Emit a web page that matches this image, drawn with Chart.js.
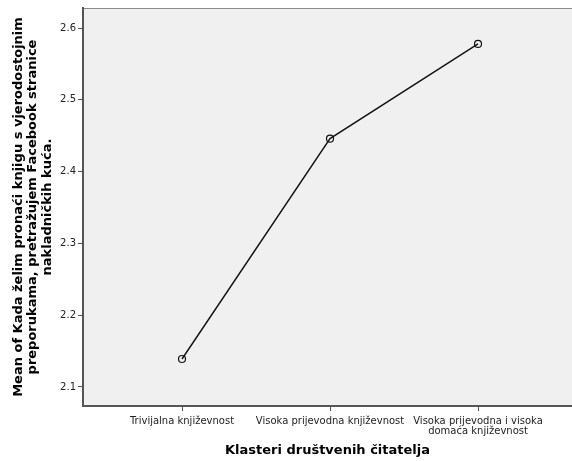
<!DOCTYPE html>
<html>
<head>
<meta charset="utf-8">
<script src="https://cdn.jsdelivr.net/npm/chart.js@4/dist/chart.umd.min.js"></script>
<style>
html,body{margin:0;padding:0;background:#fff;}
#wrap{width:572px;height:461px;position:relative;}
</style>
</head>
<body>
<div id="wrap"><canvas id="c" width="572" height="461"></canvas></div>
<script>
const categories = [
  "Trivijalna književnost",
  "Visoka prijevodna književnost",
  ["Visoka prijevodna i visoka", "domaća književnost"]
];
const meanValues = [2.139, 2.446, 2.578];
const yTicks = [2.1, 2.2, 2.3, 2.4, 2.5, 2.6];
const yTitle = [
  "Mean of Kada želim pronaći knjigu s vjerodostojnim",
  "preporukama, pretražujem Facebook stranice",
  "nakladničkih kuća."
];
const xTitle = "Klasteri društvenih čitatelja";

const bgPlugin = {
  id: 'bg',
  beforeDraw(chart) {
    const {ctx, chartArea: a} = chart;
    ctx.save();
    ctx.fillStyle = '#f0f0f0';
    ctx.fillRect(a.left, a.top, a.right - a.left, a.bottom - a.top);
    ctx.strokeStyle = '#8a8a8a';
    ctx.lineWidth = 1;
    ctx.beginPath();
    ctx.moveTo(a.left, a.top + 0.5);
    ctx.lineTo(a.right, a.top + 0.5);
    ctx.stroke();
    ctx.restore();
  }
};

new Chart(document.getElementById('c'), {
  type: 'line',
  data: {
    datasets: [{
      data: meanValues.map((v, i) => ({x: i, y: v})),
      borderColor: '#111',
      borderWidth: 1.4,
      pointRadius: 3.5,
      pointBorderWidth: 1.2,
      pointBorderColor: '#111',
      pointBackgroundColor: 'rgba(0,0,0,0)',
      tension: 0
    }]
  },
  options: {
    responsive: false,
    animation: false,
    devicePixelRatio: 1,
    layout: {autoPadding: false, padding: {left: 0, right: 0, top: 7, bottom: 0}},
    plugins: {legend: {display: false}, tooltip: {enabled: false}},
    scales: {
      x: {
        type: 'linear',
        min: -0.669,
        max: 2.635,
        afterBuildTicks(s) { s.ticks = categories.map((c, i) => ({value: i})); },
        afterFit(s) { s.height = 55; s.paddingLeft = 0; s.paddingRight = 0; },
        ticks: {
          callback: (v) => categories[v],
          font: {family: 'DejaVu Sans', size: 10, lineHeight: 1.0},
          color: '#222',
          padding: 5,
          maxRotation: 0,
          autoSkip: false
        },
        grid: {drawOnChartArea: false, tickLength: 5, color: '#555', lineWidth: 1},
        border: {color: '#555', width: 2},
        title: {
          display: true,
          text: xTitle,
          font: {family: 'DejaVu Sans', size: 13, weight: 'bold'},
          color: '#000',
          padding: {top: 4, bottom: 3}
        }
      },
      y: {
        type: 'linear',
        min: 2.0735,
        max: 2.628,
        afterBuildTicks(s) { s.ticks = yTicks.map(v => ({value: v})); },
        afterFit(s) { s.width = 83; },
        ticks: {
          callback: (v) => v.toFixed(1),
          font: {family: 'DejaVu Sans', size: 10},
          color: '#222',
          padding: 2
        },
        grid: {drawOnChartArea: false, tickLength: 5, color: '#555', lineWidth: 1},
        border: {color: '#555', width: 2},
        title: {
          display: true,
          text: yTitle,
          font: {family: 'DejaVu Sans', size: 13, weight: 'bold', lineHeight: 1.12},
          color: '#000',
          padding: {top: 11, bottom: 0}
        }
      }
    }
  },
  plugins: [bgPlugin]
});
</script>
</body>
</html>
